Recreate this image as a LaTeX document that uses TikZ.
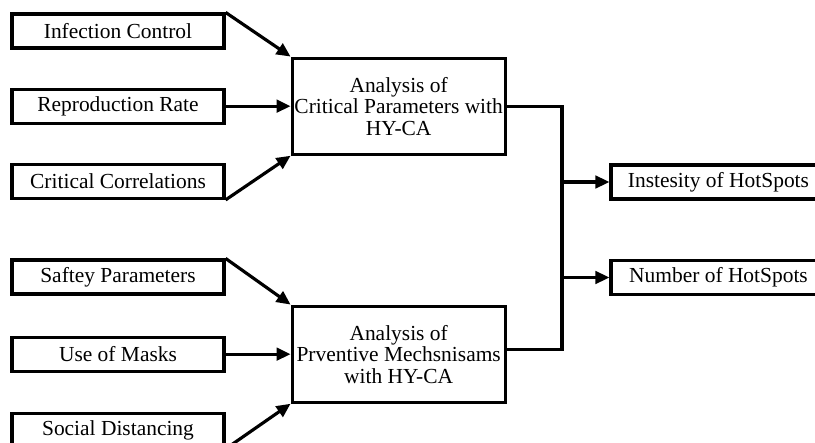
\documentclass[tikz,border=0pt]{standalone}
\usepackage{fontspec}
\setmainfont{Liberation Serif}
\usetikzlibrary{arrows.meta, positioning}
\tikzset{
  inbox/.style={rectangle, draw, line width=1.8pt, align=center,
    font=\fontsize{12.2}{12.2}\selectfont, minimum width=4.24cm,
    minimum height=0.68cm, inner sep=1pt},
  anbox/.style={inbox, minimum width=4.26cm, minimum height=1.92cm},
  outbox/.style={inbox, minimum width=4.3cm},
  ar/.style={-{Triangle[length=2.8mm, width=2.5mm]}, line width=1.8pt},
  ln/.style={line width=1.8pt},
}
\begin{document}
\begin{tikzpicture}[node distance=0.76cm and 1.3cm]
  \clip (0,0) rectangle (16.3,-8.86);
  % inputs
  \node[inbox] (infect) at (2.36,-0.62) {Infection Control};
  \node[inbox, below=of infect] (repro) {Reproduction Rate};
  \node[inbox, below=of repro] (corr) {Critical Correlations};
  \node[inbox] (safety) at (2.36,-5.54) {Saftey Parameters};
  \node[inbox, below=0.8cm of safety] (masks) {Use of Masks};
  \node[inbox, below=0.78cm of masks] (distance) {Social Distancing};

  % analysis
  \node[anbox, right=of repro] (anCrit) {Analysis of\\Critical Parameters with\\HY-CA};
  \node[anbox, right=of masks] (anPrev) {Analysis of\\Prventive Mechsnisams\\with HY-CA};

  % outputs
  \node[outbox] (intensity) at (14.37,-3.64) {Instesity of HotSpots};
  \node[outbox] (number) at (14.37,-5.55) {Number of HotSpots};

  \coordinate (bus) at (11.24,0);
  \coordinate (prevOut) at ([yshift=0.1cm]anPrev.east);

  \draw[ar] (infect.north east) -- (anCrit.north west);
  \draw[ar] (repro) -- (anCrit);
  \draw[ar] (corr.south east) -- (anCrit.south west);
  \draw[ar] (safety.north east) -- (anPrev.north west);
  \draw[ar] (masks) -- (anPrev);
  \draw[ar] (distance.south east) -- (anPrev.south west);

  \draw[ln] (anCrit.east) -| (bus |- prevOut) -- (prevOut);
  \draw[ar] (bus |- intensity) -- (intensity);
  \draw[ar] (bus |- number) -- (number);
\end{tikzpicture}
\end{document}
